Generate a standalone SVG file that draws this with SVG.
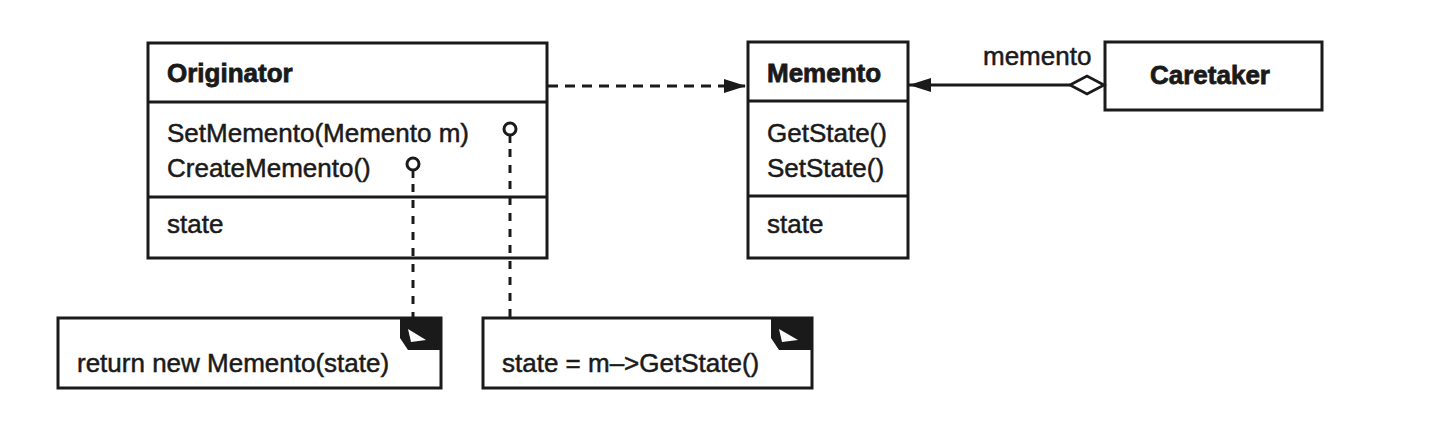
<svg xmlns="http://www.w3.org/2000/svg" width="1448" height="430" viewBox="0 0 1448 430">
<style>
.box{fill:#fff;stroke:#1a1a1a;stroke-width:3}
.div{stroke:#1a1a1a;stroke-width:3}
.t{font-family:"Liberation Sans",Arial,sans-serif;font-size:26px;fill:#1a1a1a;stroke:#1a1a1a;stroke-width:0.5}
.b{font-weight:bold;stroke-width:0.8}
.dash{fill:none;stroke:#1a1a1a;stroke-width:3;stroke-dasharray:10 7}
.vdash{fill:none;stroke:#1a1a1a;stroke-width:3;stroke-dasharray:8 8}
.solid{fill:none;stroke:#1a1a1a;stroke-width:2.8}
.ink{fill:#1a1a1a}
.pin{fill:#fff;stroke:#1a1a1a;stroke-width:3}
</style>
<defs>
<marker id="arr" viewBox="0 0 22 14" refX="22" refY="7" markerWidth="22" markerHeight="14" markerUnits="userSpaceOnUse" orient="auto">
<path d="M0,0 L22,7 L0,14 Z" fill="#1a1a1a"/>
</marker>
</defs>
<rect width="1448" height="430" fill="#fff"/>

<g id="originator">
<rect class="box" x="148" y="43" width="399" height="215"/>
<line class="div" x1="148" y1="102" x2="547" y2="102"/>
<line class="div" x1="148" y1="197" x2="547" y2="197"/>
<text class="t b" x="167" y="82">Originator</text>
<text class="t" x="167" y="142">SetMemento(Memento m)</text>
<text class="t" x="167" y="177">CreateMemento()</text>
<text class="t" x="167" y="233">state</text>
</g>

<g id="memento">
<rect class="box" x="748" y="42" width="160" height="216"/>
<line class="div" x1="748" y1="101" x2="908" y2="101"/>
<line class="div" x1="748" y1="196" x2="908" y2="196"/>
<text class="t b" x="767" y="82">Memento</text>
<text class="t" x="767" y="142">GetState()</text>
<text class="t" x="767" y="177">SetState()</text>
<text class="t" x="767" y="233">state</text>
</g>

<g id="caretaker">
<rect class="box" x="1105" y="42" width="217" height="68"/>
<text class="t b" x="1150" y="84">Caretaker</text>
</g>

<g id="note1">
<rect class="box" x="58" y="318" width="383" height="70"/>
<path class="ink" d="M400,318 H441 V350 H408 L400,338 Z"/>
<path d="M408,329 L411,342 L426,340 Z" fill="#fff"/>
<text class="t" x="77" y="372">return new Memento(state)</text>
</g>

<g id="note2">
<rect class="box" x="483" y="318" width="329" height="70"/>
<path class="ink" d="M771,318 H812 V350 H779 L771,338 Z"/>
<path d="M779,329 L782,342 L798,340 Z" fill="#fff"/>
<text class="t" x="502" y="372">state = m–&gt;GetState()</text>
</g>

<g id="connectors">
<line class="dash" x1="548" y1="86" x2="746" y2="86" marker-end="url(#arr)"/>
<line class="solid" x1="1070" y1="85" x2="909" y2="85" marker-end="url(#arr)"/>
<path d="M1070,85 L1087,76 L1104,85 L1087,94 Z" fill="#fff" stroke="#1a1a1a" stroke-width="2.8"/>
<text class="t" x="983" y="65">memento</text>
<circle class="pin" cx="510" cy="129" r="6"/>
<line class="solid" x1="510" y1="135" x2="510" y2="143"/>
<line class="vdash" x1="510" y1="149" x2="510" y2="318"/>
<circle class="pin" cx="413" cy="164" r="6"/>
<line class="solid" x1="413" y1="170" x2="413" y2="178"/>
<line class="vdash" x1="413" y1="184" x2="413" y2="318"/>
</g>
</svg>
